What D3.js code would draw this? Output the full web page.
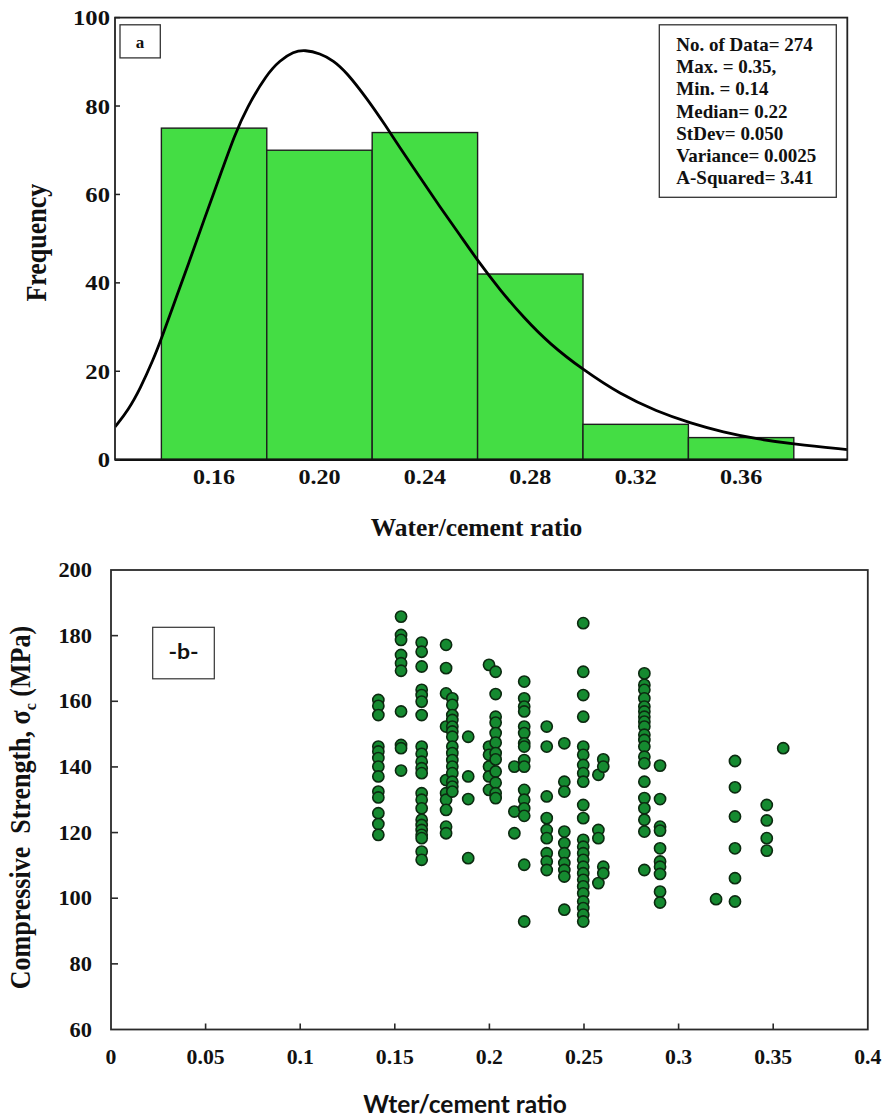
<!DOCTYPE html>
<html>
<head>
<meta charset="utf-8">
<script src="https://cdn.jsdelivr.net/npm/d3@7"></script>
<style>
  html, body { margin: 0; padding: 0; background: #fff; }
  svg { display: block; }
  .serif { font-family: "Liberation Serif", "Times New Roman", serif; font-weight: bold; fill: #111; }
  .sans { font-family: Lato, "Liberation Sans", Arial, sans-serif; font-weight: bold; fill: #111; }
</style>
</head>
<body>
<svg id="chart" width="883" height="1119"></svg>
<script>
// ---------- (a) histogram of water/cement ratio ----------
const binEdges = [0.14, 0.18, 0.22, 0.26, 0.30, 0.34, 0.38];
const binCounts = [75, 70, 74, 42, 8, 5];
const histXTicks = [0.16, 0.20, 0.24, 0.28, 0.32, 0.36];
const histYTicks = [0, 20, 40, 60, 80, 100];

// fitted distribution curve (frequency scale)
const fitX = [0.1224, 0.1275, 0.1319, 0.1369, 0.1401, 0.1458, 0.1509, 0.1559, 0.1623, 0.1679,
  0.1724, 0.1800, 0.1850, 0.1901, 0.1945, 0.2002, 0.2053, 0.2103, 0.2179, 0.2255,
  0.2306, 0.2382, 0.2457, 0.2533, 0.2603, 0.2685, 0.2774, 0.2875, 0.3001, 0.3141,
  0.3280, 0.3406, 0.3533, 0.3659, 0.3798, 0.4003];
const fitY = [7.4, 11.3, 16.0, 22.6, 27.5, 37.0, 45.3, 53.8, 64.3, 73.6,
  79.6, 87.2, 90.3, 92.3, 92.7, 91.9, 90.3, 87.6, 81.8, 75.2,
  70.5, 63.8, 57.2, 50.8, 44.8, 38.4, 32.2, 26.1, 20.3, 14.8,
  10.9, 8.3, 6.2, 4.7, 3.5, 2.3];

const statLines = ["No. of Data= 274", "Max. = 0.35,", "Min. = 0.14", "Median= 0.22",
  "StDev= 0.050", "Variance= 0.0025", "A-Squared= 3.41"];

// ---------- (b) compressive strength vs water/cement ratio ----------
const wcRatio = [0.1413, 0.1533, 0.1642, 0.1771, 0.1804, 0.1888, 0.1998, 0.2033, 0.2132, 0.2184,
  0.2303, 0.2396, 0.2496, 0.2576, 0.2602, 0.2819, 0.2902, 0.3198, 0.3298, 0.3466, 0.3553];
const strengthAtRatio = [
  [160.4, 158.6, 155.8, 146.2, 144.7, 142.7, 140.1, 137.1, 132.5, 130.7, 125.9, 122.6, 119.3],
  [185.8, 180.2, 178.7, 174.1, 171.6, 169.3, 156.9, 146.7, 145.7, 138.9],
  [177.9, 175.1, 170.6, 163.5, 161.9, 159.9, 155.8, 146.2, 144.0, 141.6, 139.6, 138.1, 132.0,
   130.0, 127.4, 123.9, 122.3, 120.8, 119.3, 118.3, 114.2, 111.7],
  [177.2, 170.1, 162.4, 152.3, 136.0, 132.0, 130.0, 126.9, 121.8, 119.8],
  [160.9, 158.9, 155.8, 154.3, 152.3, 150.8, 149.2, 146.2, 144.2, 142.1, 140.1, 138.1, 135.5, 134.0, 132.5],
  [149.2, 137.1, 130.2, 112.2],
  [171.1, 146.2, 143.7, 140.1, 137.1, 133.0],
  [169.0, 162.2, 155.3, 153.5, 150.3, 147.4, 144.2, 142.3, 138.6, 135.2, 132.0, 130.5],
  [140.1, 126.4, 119.8],
  [166.0, 160.9, 158.4, 156.9, 152.3, 150.3, 147.2, 146.2, 142.1, 140.1, 133.0, 130.0, 127.4, 125.1, 110.2, 92.9],
  [152.3, 146.2, 131.0, 124.4, 120.8, 118.3, 113.7, 111.2, 108.6],
  [147.2, 135.5, 132.5, 120.3, 116.8, 113.7, 110.7, 108.6, 106.6, 96.5],
  [183.8, 169.0, 161.9, 155.3, 146.2, 143.7, 140.6, 138.1, 135.5, 128.4, 124.4, 117.8, 115.7,
   113.7, 111.7, 109.6, 107.6, 105.6, 103.6, 101.5, 99.0, 97.0, 95.0, 92.9],
  [137.6, 120.8, 118.3, 104.6],
  [142.3, 140.1, 109.6, 107.6],
  [168.5, 165.0, 163.5, 160.9, 158.4, 156.9, 155.3, 153.8, 152.3, 149.8, 148.2, 146.2, 143.1,
   141.1, 135.5, 130.5, 127.4, 123.9, 120.3, 108.6],
  [140.4, 130.2, 121.8, 120.6, 115.2, 111.2, 109.6, 107.4, 102.0, 98.7],
  [99.7],
  [141.8, 133.8, 124.9, 115.2, 106.1, 99.0],
  [128.4, 123.7, 118.3, 114.5],
  [145.7]
];
const scatterXTicks = [0, 0.05, 0.1, 0.15, 0.2, 0.25, 0.3, 0.35, 0.4];
const scatterXTickLabels = ["0", "0.05", "0.1", "0.15", "0.2", "0.25", "0.3", "0.35", "0.4"];
const scatterYTicks = [60, 80, 100, 120, 140, 160, 180, 200];

const svg = d3.select("#chart");

// horizontally widened text, as in the original figure
function wideText(parent, x, y, str, cls, size, anchor, sx) {
  const g = parent.append("g").attr("transform", `translate(${x},${y}) scale(${sx},1)`);
  return g.append("text").attr("class", cls).attr("font-size", size)
    .attr("text-anchor", anchor).text(str);
}

// ================= panel (a) =================
const xA = d3.scaleLinear().domain([0.1224, 0.4003]).range([115, 847.3]);
const yA = d3.scaleLinear().domain([0, 100]).range([459.7, 17.6]);
const gA = svg.append("g");

gA.append("clipPath").attr("id", "clipA").append("rect")
  .attr("x", xA.range()[0]).attr("y", yA.range()[1])
  .attr("width", xA.range()[1] - xA.range()[0] + 3)
  .attr("height", yA.range()[0] - yA.range()[1]);

const bins = binCounts.map((c, i) => ({ x0: binEdges[i], x1: binEdges[i + 1], n: c }));
gA.selectAll("rect.bar").data(bins).join("rect").attr("class", "bar")
  .attr("x", d => xA(d.x0)).attr("width", d => xA(d.x1) - xA(d.x0))
  .attr("y", d => yA(d.n)).attr("height", d => yA(0) - yA(d.n))
  .attr("fill", "#44dd44").attr("stroke", "#1e1e1e").attr("stroke-width", 1.4);

const fitPts = fitX.map((x, i) => [x, fitY[i]]);
gA.append("path").datum(fitPts)
  .attr("clip-path", "url(#clipA)")
  .attr("d", d3.line().x(d => xA(d[0])).y(d => yA(d[1])).curve(d3.curveBasis))
  .attr("fill", "none").attr("stroke", "#000").attr("stroke-width", 2.8);

// frame
gA.append("rect").attr("x", xA.range()[0]).attr("y", yA.range()[1])
  .attr("width", xA.range()[1] - xA.range()[0]).attr("height", yA.range()[0] - yA.range()[1])
  .attr("fill", "none").attr("stroke", "#222").attr("stroke-width", 1.8);
gA.append("line").attr("x1", xA.range()[0]).attr("x2", xA.range()[1])
  .attr("y1", yA(0)).attr("y2", yA(0)).attr("stroke", "#111").attr("stroke-width", 2.4);

// y ticks & labels
gA.selectAll("line.ytick").data(histYTicks).join("line").attr("class", "ytick")
  .attr("x1", xA.range()[0]).attr("x2", xA.range()[0] + 5)
  .attr("y1", d => yA(d)).attr("y2", d => yA(d)).attr("stroke", "#222").attr("stroke-width", 1.5);
histYTicks.forEach(v => wideText(gA, 110, yA(v) + 7.5, String(v), "serif", 22, "end", 1.12));
histXTicks.forEach(v => wideText(gA, xA(v), 484, d3.format(".2f")(v), "serif", 21.5, "middle", 1.12));

// axis titles
gA.append("g").attr("transform", `translate(46,${(yA(0) + yA(100)) / 2 + 4}) scale(1.1,1) rotate(-90)`)
  .append("text").attr("class", "serif").attr("font-size", 26).attr("text-anchor", "middle")
  .text("Frequency");
wideText(gA, 476.5, 536, "Water/cement ratio", "serif", 25.5, "middle", 1.0);

// panel tag
gA.append("rect").attr("x", 120).attr("y", 24.8).attr("width", 40.3).attr("height", 33.1)
  .attr("fill", "#fff").attr("stroke", "#333").attr("stroke-width", 1.3);
gA.append("text").attr("class", "serif").attr("font-size", 17).attr("x", 140).attr("y", 48.2)
  .attr("text-anchor", "middle").text("a");

// statistics box
gA.append("rect").attr("x", 659.3).attr("y", 24.8).attr("width", 177).attr("height", 172.5)
  .attr("fill", "#fff").attr("stroke", "#333").attr("stroke-width", 1.3);
gA.selectAll("text.stat").data(statLines).join("text").attr("class", "serif stat")
  .attr("font-size", 19).attr("x", 676.3).attr("y", (d, i) => 51 + i * 22.2).text(d => d);

// ================= panel (b) =================
const xB = d3.scaleLinear().domain([0, 0.4]).range([111, 867.8]);
const yB = d3.scaleLinear().domain([60, 200]).range([1029.5, 570]);
const gB = svg.append("g");

gB.append("rect").attr("x", xB.range()[0]).attr("y", yB.range()[1])
  .attr("width", xB.range()[1] - xB.range()[0]).attr("height", yB.range()[0] - yB.range()[1])
  .attr("fill", "none").attr("stroke", "#2a2a2a").attr("stroke-width", 1.8);

// inward ticks
gB.selectAll("line.xt").data(scatterXTicks.slice(1, -1)).join("line").attr("class", "xt")
  .attr("x1", d => xB(d)).attr("x2", d => xB(d))
  .attr("y1", yB(60)).attr("y2", yB(60) - 6).attr("stroke", "#2a2a2a").attr("stroke-width", 1.6);
gB.selectAll("line.yt").data(scatterYTicks.slice(1, -1)).join("line").attr("class", "yt")
  .attr("x1", xB(0)).attr("x2", xB(0) + 7)
  .attr("y1", d => yB(d)).attr("y2", d => yB(d)).attr("stroke", "#2a2a2a").attr("stroke-width", 1.6);

scatterYTicks.forEach(v => wideText(gB, 92, yB(v) + 7, String(v), "serif", 20, "end", 1.12));
scatterXTicks.forEach((v, i) => wideText(gB, xB(v), 1064, scatterXTickLabels[i], "serif", 20.5, "middle", 1.06));

// points
const pts = [];
wcRatio.forEach((w, i) => strengthAtRatio[i].forEach(s => pts.push([w, s])));
gB.selectAll("circle.pt").data(pts).join("circle").attr("class", "pt")
  .attr("cx", d => xB(d[0])).attr("cy", d => yB(d[1])).attr("r", 5.6)
  .attr("fill", "#158a30").attr("stroke", "#0c2a10").attr("stroke-width", 1.6);

// panel tag
gB.append("rect").attr("x", 152.7).attr("y", 627.3).attr("width", 61.6).attr("height", 51.5)
  .attr("fill", "#fff").attr("stroke", "#333").attr("stroke-width", 1.2);
wideText(gB, 183.5, 659, "-b-", "sans", 20, "middle", 1.15);

// axis titles
const yTitle = gB.append("g").attr("transform", `translate(30,${807.6}) scale(1.1,1) rotate(-90)`)
  .append("text").attr("class", "serif").attr("font-size", 26).attr("text-anchor", "middle")
  .style("white-space", "pre");
yTitle.append("tspan").text("Compressive  Strength, σ");
yTitle.append("tspan").attr("font-size", 16).attr("dy", 5).text("c");
yTitle.append("tspan").attr("dy", -5).text(" (MPa)");

wideText(gB, 465, 1113, "Wter/cement ratio", "sans", 24.5, "middle", 1.0);
</script>
</body>
</html>
